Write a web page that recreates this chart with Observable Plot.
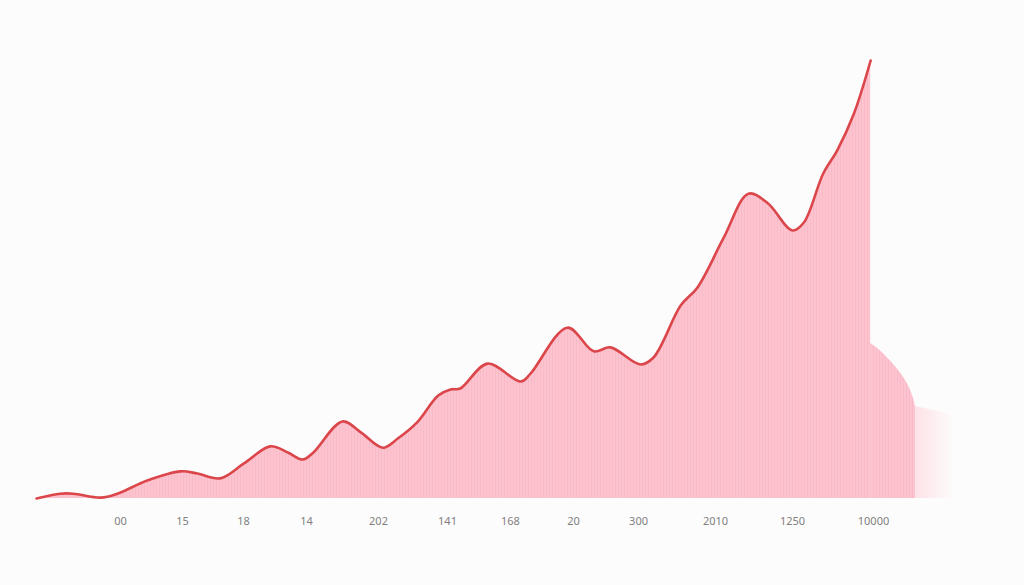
<!DOCTYPE html>
<html>
<head>
<meta charset="utf-8">
<script src="https://cdn.jsdelivr.net/npm/d3@7"></script>
<script src="https://cdn.jsdelivr.net/npm/@observablehq/plot@0.6"></script>
<style>
  html, body { margin: 0; padding: 0; background: #fdfcfc; }
  #chart svg { display: block; }
</style>
</head>
<body>
<div id="chart"></div>
<script>
// Main series (x position along axis, value)
const seriesX = [0, 2.7, 4.2, 7.3, 9.2, 12.6, 16.4, 18.3, 20.9, 23.6, 26.6, 28.6, 30.3, 31.5, 34.8, 36.9, 39.4, 41.1, 43.3, 45.7, 47.1, 48.2, 51.3, 55.1, 56.2, 60.4, 63.4, 65.3, 68.7, 70.2, 73.3, 75.2, 78.2, 81.0, 83.2, 86.0, 87.3, 89.5, 91.1, 93.0, 94.9];
const seriesY = [0, 1.1, 1.1, 0.2, 1.1, 4.1, 6.2, 5.7, 4.6, 8.0, 11.9, 10.5, 8.9, 10.5, 17.6, 15.1, 11.6, 13.7, 17.4, 23.5, 24.9, 25.1, 30.8, 26.7, 28.5, 39.0, 33.6, 34.5, 30.6, 32.2, 44.1, 48.2, 59.6, 69.6, 67.4, 61.2, 63.0, 74.2, 79.5, 87.9, 100];

// Shaded tail after the line ends
const tailX = [94.9, 95.8, 97.2, 98.5, 99.3, 99.8, 100];
const tailY = [35.4, 34.1, 31.3, 28.1, 25.3, 22.6, 21.0];

// Tick positions and labels
const tickPos = [9.56, 16.61, 23.55, 30.72, 38.91, 46.76, 53.92, 61.09, 68.49, 77.25, 86.01, 95.22];
const tickLabels = ["00", "15", "18", "14", "202", "141", "168", "20", "300", "2010", "1250", "10000"];

const series = seriesX.map((x, i) => ({x, y: seriesY[i]}));
const tail = tailX.map((x, i) => ({x, y: tailY[i]}));
const fadeTail = [{x: 100, y: 21.0}, {x: 104.5, y: 19}];

const plot = Plot.plot({
  width: 1024,
  height: 585,
  marginLeft: 36,
  marginRight: 109,
  marginTop: 60,
  marginBottom: 87,
  style: {background: "transparent", fontFamily: "'Noto Sans', 'DejaVu Sans', sans-serif"},
  x: {domain: [0, 100], label: null},
  y: {domain: [0, 100], axis: null},
  marks: [
    Plot.areaY(fadeTail, {x: "x", y: "y", fill: "url(#fadegrad)"}),
    Plot.areaY(tail, {x: "x", y: "y", fill: "url(#stripes)", curve: "monotone-x"}),
    Plot.areaY(series, {x: "x", y: "y", fill: "url(#stripes)", curve: "catmull-rom"}),
    Plot.lineY(series, {x: "x", y: "y", stroke: "#db464b", strokeWidth: 2.6, curve: "catmull-rom"}),
    Plot.axisX({ticks: tickPos, tickFormat: (d, i) => tickLabels[i], tickSize: 0, tickPadding: 19, fontSize: 11, color: "#808080", label: null})
  ]
});

const svgNS = "http://www.w3.org/2000/svg";
const defs = document.createElementNS(svgNS, "defs");
defs.innerHTML = `
  <pattern id="stripes" width="3" height="10" patternUnits="userSpaceOnUse">
    <rect width="3" height="10" fill="#fdc3ce"></rect>
    <rect width="1" height="10" fill="#f9bac7"></rect>
  </pattern>
  <linearGradient id="fadegrad" x1="0" x2="1" y1="0" y2="0">
    <stop offset="0" stop-color="#fdc3ce" stop-opacity="0.45"></stop>
    <stop offset="1" stop-color="#fdc3ce" stop-opacity="0"></stop>
  </linearGradient>`;
plot.insertBefore(defs, plot.firstChild);

document.getElementById("chart").appendChild(plot);
</script>
</body>
</html>
